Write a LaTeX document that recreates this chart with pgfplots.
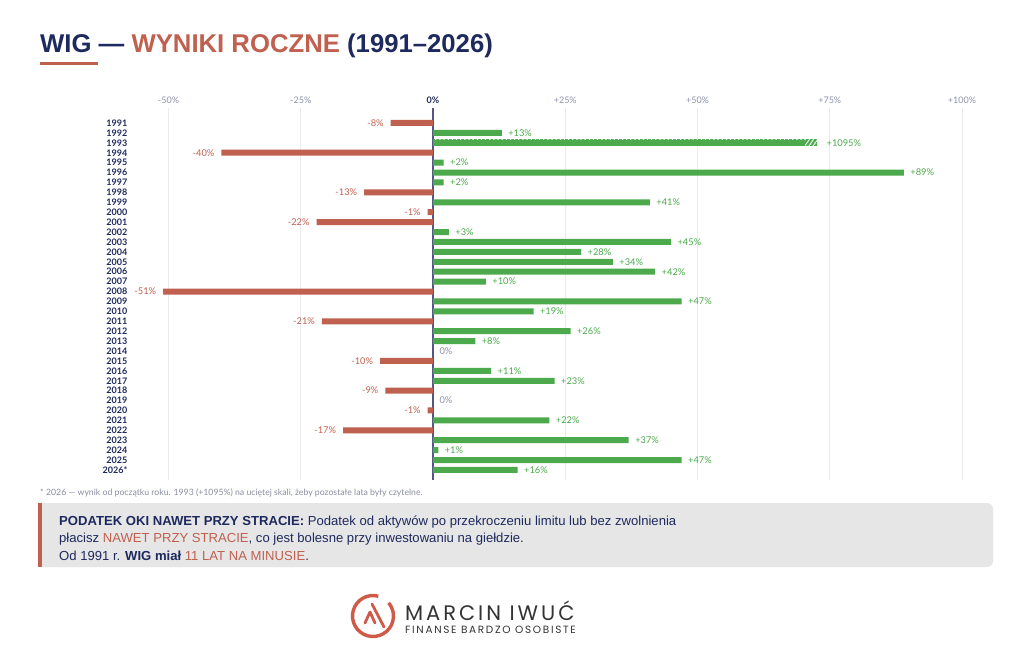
\documentclass[border=0pt]{standalone}
\usepackage{fontspec}
\setmainfont{Liberation Sans}
\newfontfamily\lato{Lato}
\newfontfamily\pop{Poppins}
\usepackage{pgfplots}
\pgfplotsset{compat=1.18}
\usepackage{pgfplotstable}
\usetikzlibrary{patterns.meta}
\definecolor{navy}{HTML}{1E2A5E}
\definecolor{rd}{HTML}{C0604F}
\definecolor{gr}{HTML}{4CAA4C}
\definecolor{tk}{HTML}{8C93AD}
\definecolor{gridc}{HTML}{EBEBEB}
\definecolor{zl}{HTML}{55558A}
\definecolor{boxbg}{HTML}{E6E6E6}
\definecolor{foot}{HTML}{8A8FA0}
\definecolor{logo}{HTML}{D05A48}
\definecolor{logotxt}{HTML}{333333}

\pgfplotstableread{
y x lab
0 -8 -8
-3 -40 -40
-7 -13 -13
-9 -1 -1
-10 -22 -22
-17 -51 -51
-20 -21 -21
-24 -10 -10
-27 -9 -9
-29 -1 -1
-31 -17 -17
}\negdata

\pgfplotstableread{
y x lab
-1 13 +13
-4 2 +2
-5 89 +89
-6 2 +2
-8 41 +41
-11 3 +3
-12 45 +45
-13 28 +28
-14 34 +34
-15 42 +42
-16 10 +10
-18 47 +47
-19 19 +19
-21 26 +26
-22 8 +8
-25 11 +11
-26 23 +23
-30 22 +22
-32 37 +37
-33 1 +1
-34 47 +47
-35 16 +16
}\posdata

\pgfplotstableread{
y x lab
-2 72.6 +1095
}\capdata

\pgfplotstableread{
y x
-2 70.3
}\capsolid

\pgfplotstableread{
y x lab
-23 0 0
-28 0 0
}\zerodata

\begin{document}
\begin{tikzpicture}[x=1pt,y=1pt]
\fill[white] (0,0) rectangle (1024,670);
\useasboundingbox (0,0) rectangle (1024,670);

% title
\node[anchor=base west, inner sep=0] at (40,617) {\fontsize{25.7}{28}\selectfont\bfseries\color{navy}WIG — \color{rd}WYNIKI ROCZNE \color{navy}(1991–2026)};
\fill[rd] (40,604.5) rectangle (98,607.5);

\begin{axis}[
  at={(157.9pt,190.1pt)}, anchor=south west,
  scale only axis, width=814.7pt, height=371.8pt,
  xmin=-52, xmax=102, ymin=-36, ymax=1.5,
  xbar,
  every axis plot/.append style={bar shift=0pt, bar width=6pt},
  axis line style={draw=none}, major tick length=0pt,
  xtick={-50,-25,0,25,50,75,100},
  xticklabels={-50\%,-25\%,{\textbf{\color{navy}0\%}},+25\%,+50\%,+75\%,+100\%},
  xticklabel pos=upper,
  xticklabel style={font=\lato\fontsize{9}{9}\selectfont, text=tk, yshift=1pt},
  xmajorgrids, grid style={draw=gridc, line width=0.8pt},
  extra x ticks={0}, extra x tick labels={},
  extra x tick style={grid style={draw=zl, line width=1.3pt}},
  ytick={-35,-34,...,0},
  yticklabels={2026*,2025,2024,2023,2022,2021,2020,2019,2018,2017,2016,2015,2014,2013,2012,2011,2010,2009,2008,2007,2006,2005,2004,2003,2002,2001,2000,1999,1998,1997,1996,1995,1994,1993,1992,1991},
  yticklabel style={font=\lato\bfseries\fontsize{9}{9}\selectfont, text=navy, xshift=-27pt},
  clip=false,
  nodes near coords={\pgfplotspointmeta\%},
  point meta=explicit symbolic,
]
\addplot[fill=rd, draw=none, nodes near coords style={anchor=east, font=\lato\fontsize{9.3}{9}\selectfont, text=rd, xshift=-3.5pt}] table[x=x,y=y,meta=lab]{\negdata};
\addplot[fill=gr, draw=none, nodes near coords style={anchor=west, font=\lato\fontsize{9.3}{9}\selectfont, text=gr, xshift=3pt}] table[x=x,y=y,meta=lab]{\posdata};
\addplot[draw=none, pattern={Lines[angle=55,distance=3.4pt,line width=2.3pt]}, pattern color=gr, nodes near coords style={anchor=west, font=\lato\fontsize{9.3}{9}\selectfont, text=gr, xshift=6pt}] table[x=x,y=y,meta=lab]{\capdata};
\addplot[fill=gr, draw=none, nodes near coords=] table[x=x,y=y]{\capsolid};
\addplot[draw=none, fill=none, nodes near coords style={anchor=west, font=\lato\fontsize{9.3}{9}\selectfont, text=tk, xshift=3pt}] table[x=x,y=y,meta=lab]{\zerodata};
\end{axis}

% footnote
\node[anchor=base west, inner sep=0] at (40,175) {\lato\fontsize{8.7}{9}\selectfont\color{foot}* 2026 — wynik od początku roku. 1993 (+1095\%) na uciętej skali, żeby pozostałe lata były czytelne.};

% info box
\fill[boxbg, rounded corners=6pt] (38,103) rectangle (993,167);
\fill[rd] (38,103) rectangle (41.5,167);
\node[anchor=base west, inner sep=0] at (59,145) {\fontsize{13.1}{14}\selectfont\color{navy}\textbf{PODATEK OKI NAWET PRZY STRACIE:} Podatek od aktywów po przekroczeniu limitu lub bez zwolnienia};
\node[anchor=base west, inner sep=0] at (59,127.5) {\fontsize{13.1}{14}\selectfont\color{navy}płacisz \textcolor{rd}{NAWET PRZY STRACIE}, co jest bolesne przy inwestowaniu na giełdzie.};
\node[anchor=base west, inner sep=0] at (59,110) {\fontsize{13.1}{14}\selectfont\color{navy}Od 1991 r. \textbf{WIG miał} \textcolor{rd}{11 LAT NA MINUSIE}.};

% logo
\draw[logo, line width=3.4pt] (373,54) ++(75:20.5) arc (75:400:20.5);
\draw[logo, line width=2.8pt, line cap=round, line join=round] (365,47) -- (370,58) -- (375,47);
\draw[logo, line width=2.8pt, line cap=round] (372,66) -- (384,43);
\node[anchor=base west, inner sep=0] at (405,50) {\pop\addfontfeatures{LetterSpace=14}\fontsize{21}{21}\selectfont\color{logotxt}MARCIN IWUĆ};
\node[anchor=base west, inner sep=0] at (405,37) {\pop\addfontfeatures{LetterSpace=16}\fontsize{10.5}{11}\selectfont\color{logotxt}FINANSE BARDZO OSOBISTE};
\end{tikzpicture}
\end{document}
